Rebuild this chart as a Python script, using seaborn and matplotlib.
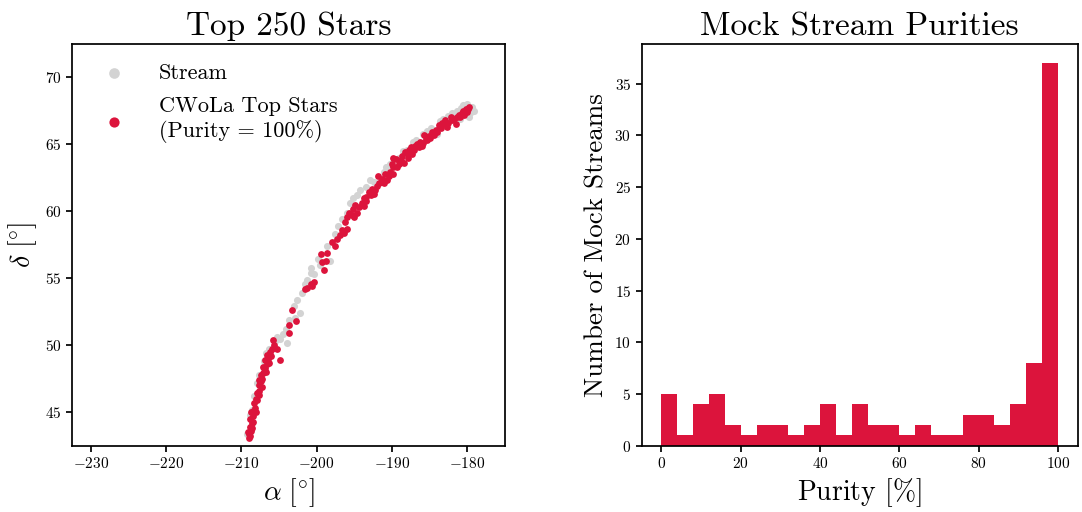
import numpy as np
import pandas as pd
import matplotlib
matplotlib.use("Agg")
import matplotlib.pyplot as plt
import seaborn as sns

# --- data ---
# stream members (grey) - RA / Dec in degrees
stream_ra = [-209.2, -208.6, -208.3, -207.6, -207.0, -206.3, -205.5, -204.8, -204.4, -203.9,
             -204.1, -203.7, -203.0, -202.2, -202.6, -201.9, -201.6, -201.3, -200.8, -200.8,
             -200.3, -199.5, -198.2, -198.6, -197.6, -197.1, -196.0, -195.6, -194.6, -193.5,
             -192.4, -191.0, -190.3, -189.0, -188.0, -186.8, -185.8, -184.8, -183.6, -182.5,
             -181.3, -180.5, -180.0, -179.1, -179.8, -179.4, -181.0, -184.0,
             -190.8, -188.5, -187.2, -185.3, -183.2, -182.0, -192.9, -194.2, -195.2, -196.6,
             -199.8, -202.9, -205.2, -206.7, -207.9, -208.9, -179.6, -180.8]
stream_dec = [43.4, 45.2, 46.2, 47.8, 48.8, 49.7, 50.3, 50.5, 50.8, 50.2,
              51.2, 51.9, 52.9, 52.4, 53.4, 53.9, 54.6, 54.9, 55.4, 55.8,
              55.3, 56.0, 56.3, 57.4, 58.3, 58.9, 59.9, 60.6, 61.2, 61.8,
              62.2, 62.9, 63.5, 64.0, 64.6, 65.3, 65.8, 66.2, 66.7, 67.1,
              67.5, 67.9, 68.0, 67.5, 67.0, 67.8, 66.9, 65.8,
              63.3, 64.5, 65.2, 66.0, 66.9, 67.3, 62.3, 61.6, 61.0, 59.4,
              56.4, 52.0, 50.6, 49.4, 47.2, 44.8, 67.3, 67.7]

# CWoLa top stars (red)
top_ra = [-209.0, -208.8, -209.1, -208.7, -208.9, -208.6, -208.8, -208.4, -208.5, -208.2,
          -208.3, -208.0, -207.9, -207.6, -207.7, -207.4, -207.2, -207.4, -207.0, -206.8,
          -207.1, -206.6, -206.9, -206.4, -206.6, -206.2, -205.9, -205.6, -205.3, -205.8,
          -204.9, -203.7, -203.6, -203.3, -202.7, -201.3, -201.5, -200.6, -200.4, -200.8,
          -199.0, -199.3, -198.8, -199.4, -198.6, -197.95, -197.3, -197.5, -196.6, -196.2,
          -196.4, -195.7, -195.3, -195.1, -194.6, -194.9, -194.0, -193.75, -193.75, -193.1,
          -192.6, -192.4, -192.0, -191.5, -191.3, -190.9, -190.6, -190.2, -189.8, -189.5,
          -189.1, -188.6, -188.2, -187.8, -187.5, -187.1, -186.6, -186.2, -186.0, -185.5,
          -185.1, -184.6, -184.2, -183.8, -183.3, -182.9, -182.7, -182.2, -181.8, -181.5,
          -181.1, -180.7, -180.2, -179.7, -180.0, -189.8,
          -208.95, -208.6, -208.4, -208.7, -208.1, -207.9, -207.7, -207.3, -207.6, -207.1,
          -206.7, -206.3, -206.0, -196.9, -196.0, -195.9, -195.0, -194.3, -193.5, -193.4,
          -192.8, -192.2, -191.7, -191.0, -190.4, -189.9, -189.3, -188.8, -188.4, -187.9,
          -187.3, -186.9, -186.4, -185.8, -185.3, -184.9, -184.4, -184.0, -183.5, -183.0,
          -182.5, -182.0, -181.3, -180.9, -180.5, -180.4, -179.9, -185.7, -187.7, -190.0,
          -191.8]
top_dec = [43.1, 43.2, 43.5, 43.6, 43.9, 44.2, 44.5, 44.7, 45.1, 45.3,
           45.7, 46.0, 46.4, 46.6, 47.0, 47.3, 47.5, 47.8, 48.0, 48.3,
           48.4, 48.6, 48.9, 49.0, 49.3, 49.5, 49.7, 50.0, 49.7, 50.4,
           48.9, 50.9, 51.5, 52.6, 51.8, 54.3, 54.2, 54.4, 54.7, 54.6,
           55.6, 56.2, 56.3, 56.8, 56.9, 57.7, 57.9, 57.4, 58.6, 59.2,
           58.4, 59.9, 59.7, 60.2, 59.9, 60.5, 60.6, 60.4, 61.0, 61.4,
           61.65, 61.3, 61.9, 62.15, 62.4, 62.8, 62.3, 62.9, 63.3, 63.9,
           63.5, 64.1, 64.4, 64.3, 64.8, 64.6, 65.0, 65.2, 64.9, 65.4,
           65.6, 65.9, 66.1, 66.4, 66.6, 66.8, 66.3, 67.0, 66.9, 66.5,
           67.2, 67.3, 67.6, 67.8, 67.4, 64.0,
           43.4, 43.8, 44.3, 45.0, 45.0, 45.9, 46.3, 46.9, 47.4, 47.9,
           48.0, 48.7, 49.2, 58.2, 58.7, 59.6, 59.6, 60.3, 61.1, 60.8,
           61.2, 61.6, 62.1, 62.1, 62.6, 62.8, 63.3, 63.8, 63.6, 64.0,
           64.3, 64.9, 64.8, 65.1, 65.3, 65.5, 65.7, 65.9, 66.2, 66.5,
           66.6, 66.8, 67.0, 67.0, 67.5, 67.2, 67.6, 65.7, 64.6, 63.5,
           62.6]

# purity histogram: 25 bins of 4% each
bin_width = 4
stream_counts = [5, 1, 4, 5, 2, 1, 2, 2, 1, 2, 4, 1, 4, 2, 2, 1, 2, 1, 1, 3, 3, 2, 4, 8, 37]
bin_centers = np.arange(len(stream_counts)) * bin_width + bin_width / 2
purity_df = pd.DataFrame({"purity": bin_centers, "count": stream_counts})

sns.set_theme(style="ticks")
plt.rcParams["font.family"] = ["serif"]
plt.rcParams["font.serif"] = ["cmr10", "DejaVu Serif"]
plt.rcParams["mathtext.fontset"] = "cm"
plt.rcParams["axes.formatter.use_mathtext"] = True
plt.rcParams["axes.unicode_minus"] = True
for key in ["text.color", "axes.labelcolor", "xtick.color", "ytick.color", "axes.edgecolor"]:
    plt.rcParams[key] = "black"

red = "#DC143C"
grey = "#D3D3D3"

fig = plt.figure(figsize=(10.82, 5.12), dpi=100)
ax1 = fig.add_axes([0.0665, 0.1295, 0.400, 0.785])
ax2 = fig.add_axes([0.593, 0.1295, 0.403, 0.785])

# === left: scatter ===
sns.scatterplot(x=stream_ra, y=stream_dec, color=grey, s=26, linewidth=0,
                label="Stream", ax=ax1)
sns.scatterplot(x=top_ra, y=top_dec, color=red, s=24, linewidth=0,
                label="CWoLa Top Stars\n(Purity = 100%)", ax=ax1)
ax1.set_xlim(-232.5, -175)
ax1.set_ylim(42.5, 72.5)
ax1.set_title("Top 250 Stars", fontsize=24)
ax1.set_xlabel(r"$\alpha\ [\!^\circ\!]$", fontsize=20)
ax1.set_ylabel(r"$\delta\ [\!^\circ\!]$", fontsize=20)
ax1.legend(loc="upper left", frameon=False, fontsize=16, markerscale=1.5,
           handletextpad=1.0, labelspacing=0.6)

# === right: histogram ===
sns.histplot(data=purity_df, x="purity", weights="count", binwidth=bin_width,
             binrange=(0, 100), color=red, alpha=1, edgecolor="none",
             linewidth=0, ax=ax2)
ax2.set_title("Mock Stream Purities", fontsize=24)
ax2.set_xlabel(r"Purity [$\%$]", fontsize=20)
ax2.set_ylabel("Number of Mock Streams", fontsize=19.5)

for ax in (ax1, ax2):
    ax.tick_params(labelsize=11, direction="out", length=4, color="black")
    for sp in ax.spines.values():
        sp.set_visible(True)
        sp.set_color("black")

fig.savefig("out.png", dpi=100)
